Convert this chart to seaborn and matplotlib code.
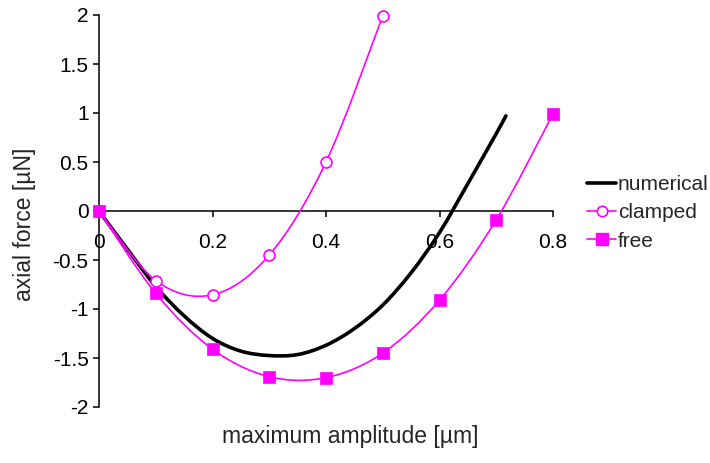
import numpy as np
import pandas as pd
import matplotlib
matplotlib.use("Agg")
import matplotlib.pyplot as plt
from matplotlib.path import Path
from matplotlib.patches import PathPatch
from matplotlib.lines import Line2D
import seaborn as sns

# ---- data ----
amp_clamped = [0.0, 0.1, 0.2, 0.3, 0.4, 0.5]
force_clamped = [0.0, -0.71, -0.855, -0.45, 0.50, 1.99]

amp_free = [0.0, 0.1, 0.2, 0.3, 0.4, 0.5, 0.6, 0.7, 0.8]
force_free = [0.0, -0.84, -1.41, -1.69, -1.70, -1.45, -0.91, -0.09, 0.99]

amp_num = [0.0, 0.05, 0.1, 0.15, 0.2, 0.25, 0.3, 0.35, 0.4, 0.45, 0.5, 0.55, 0.6, 0.65, 0.7, 0.717]
force_num = [0.0, -0.39, -0.77, -1.07, -1.30, -1.43, -1.475, -1.465, -1.37, -1.20, -0.96, -0.63, -0.22, 0.28, 0.79, 0.97]

x_ticks = [0, 0.2, 0.4, 0.6, 0.8]
x_tick_labels = ["0", "0.2", "0.4", "0.6", "0.8"]
y_ticks = [-2, -1.5, -1, -0.5, 0, 0.5, 1, 1.5, 2]
y_tick_labels = ["-2", "-1.5", "-1", "-0.5", "0", "0.5", "1", "1.5", "2"]

MAG = "#FF00FF"
FS_TICK = 15
FS_LABEL = 16.5
FS_LEG = 15

sns.set_style("white")
plt.rcParams["font.family"] = ["Liberation Sans", "DejaVu Sans"]
plt.rcParams["axes.unicode_minus"] = False

fig = plt.figure(figsize=(7.1, 4.63), dpi=100)
ax = fig.add_axes([99 / 710, 1 - 407 / 463, 454 / 710, 392 / 463])


def smooth_path(xs, ys, tension=1 / 6):
    """Excel-style smoothed line rendered as cubic Bezier segments."""
    pts = np.column_stack([xs, ys]).astype(float)
    n = len(pts)
    verts = [pts[0]]
    codes = [Path.MOVETO]
    for i in range(n - 1):
        p0 = pts[i - 1] if i > 0 else pts[i]
        p1 = pts[i]
        p2 = pts[i + 1]
        p3 = pts[i + 2] if i + 2 < n else pts[i + 1]
        c1 = p1 + (p2 - p0) * tension
        c2 = p2 - (p3 - p1) * tension
        verts += [c1, c2, p2]
        codes += [Path.CURVE4] * 3
    return Path(verts, codes)


# numerical (thick black)
ax.add_patch(PathPatch(smooth_path(amp_num, force_num), fill=False,
                       edgecolor="black", lw=2.6, zorder=3, capstyle="round"))
# clamped
ax.add_patch(PathPatch(smooth_path(amp_clamped, force_clamped), fill=False,
                       edgecolor=MAG, lw=1.2, zorder=3))
# free
ax.add_patch(PathPatch(smooth_path(amp_free, force_free), fill=False,
                       edgecolor=MAG, lw=1.2, zorder=3))

df_c = pd.DataFrame({"x": amp_clamped, "y": force_clamped})
df_f = pd.DataFrame({"x": amp_free, "y": force_free})
sns.scatterplot(data=df_c, x="x", y="y", ax=ax, marker="o", s=62,
                facecolor="white", edgecolor=MAG, linewidth=1.2, zorder=4,
                clip_on=False)
sns.scatterplot(data=df_f, x="x", y="y", ax=ax, marker="s", s=80,
                color=MAG, edgecolor=MAG, linewidth=0.5, zorder=4,
                clip_on=False)

ax.set_xlim(0, 0.8)
ax.set_ylim(-2, 2)
ax.set_xticks(x_ticks)
ax.set_xticklabels(x_tick_labels)
ax.set_yticks(y_ticks)
ax.set_yticklabels(y_tick_labels)

for s in ["top", "right"]:
    ax.spines[s].set_visible(False)
ax.spines["bottom"].set_position(("data", 0))
for s in ["left", "bottom"]:
    ax.spines[s].set_color("black")
    ax.spines[s].set_linewidth(1.1)
    ax.spines[s].set_zorder(2)

ax.tick_params(axis="y", direction="out", length=4.5, width=1.1, pad=3,
               labelsize=FS_TICK, colors="black", left=True)
ax.tick_params(axis="x", direction="out", length=4.5, width=1.1, pad=11,
               labelsize=FS_TICK, colors="black", bottom=True)

ax.set_xlabel("maximum amplitude [µm]", fontsize=FS_LABEL)
ax.set_ylabel("axial force [µN]", fontsize=FS_LABEL)
ax.xaxis.set_label_coords((350 - 99) / 454, (407 - 425) / 392)
ax.yaxis.set_label_coords((36 - 99) / 454, (407 - 224) / 392)
ax.patch.set_visible(False)

handles = [
    Line2D([], [], color="black", lw=2.6),
    Line2D([], [], color=MAG, lw=1.2, marker="o", markersize=7.5,
           markerfacecolor="white", markeredgecolor=MAG, markeredgewidth=1.2),
    Line2D([], [], color=MAG, lw=1.2, marker="s", markersize=8.5,
           markerfacecolor=MAG, markeredgecolor=MAG),
]
fig.legend(handles, ["numerical", "clamped", "free"], loc="upper left",
           bbox_to_anchor=(587 / 710, 1 - 175 / 463), frameon=False,
           fontsize=FS_LEG, handlelength=1.4, handletextpad=0.08,
           labelspacing=0.45, borderpad=0, borderaxespad=0)

fig.savefig("out.png", dpi=100)
